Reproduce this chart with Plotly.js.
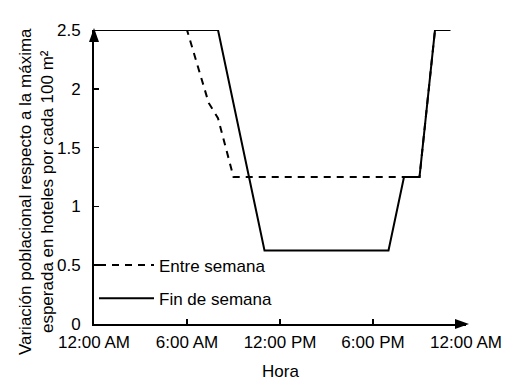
<!DOCTYPE html>
<html>
<head>
<meta charset="utf-8">
<script src="https://cdn.plot.ly/plotly-3.0.1.min.js"></script>
<style>html,body{margin:0;padding:0;background:#fff;}#chart{width:512px;height:382px;}</style>
</head>
<body>
<div id="chart"></div>
<script>
// Hours of the day (0 = 12:00 AM)
const weekdayHours = [0, 6, 7.4, 8, 9, 20, 21, 22, 23];
const weekdayValues = [2.5, 2.5, 1.88, 1.75, 1.25, 1.25, 1.25, 2.5, 2.5];
const weekendHours = [0, 8, 11, 19, 20, 21, 22, 23];
const weekendValues = [2.5, 2.5, 0.625, 0.625, 1.25, 1.25, 2.5, 2.5];
const seriesNames = ["Entre semana", "Fin de semana"];
const xTickVals = [0, 6, 12, 18, 24];
const xTickText = ["12:00 AM", "6:00 AM", "12:00 PM", "6:00 PM", "12:00 AM"];
const yTickVals = [0, 0.5, 1, 1.5, 2, 2.5];
const yTickText = ["0", "0.5", "1", "1.5", "2", "2.5"];

const FONT = "Liberation Sans, Arial, sans-serif";

const traces = [
  {
    x: weekdayHours, y: weekdayValues, name: seriesNames[0],
    type: "scatter", mode: "lines", cliponaxis: false,
    legendgroup: "a",
    line: {color: "#000", width: 2, dash: "7px,6px"}
  },
  {
    x: weekendHours, y: weekendValues, name: seriesNames[1],
    type: "scatter", mode: "lines", cliponaxis: false,
    legendgroup: "b",
    line: {color: "#000", width: 2}
  }
];

const layout = {
  width: 512, height: 382,
  margin: {l: 94, r: 46, t: 30, b: 58, pad: 0},
  paper_bgcolor: "#fff", plot_bgcolor: "#fff",
  font: {family: FONT, size: 17, color: "#000"},
  showlegend: true,
  legend: {
    x: 0.0, y: 0.26, xanchor: "left", yanchor: "top",
    bgcolor: "rgba(0,0,0,0)", borderwidth: 0,
    font: {family: FONT, size: 17, color: "#000"},
    traceorder: "grouped", tracegroupgap: 8, itemwidth: 55
  },
  xaxis: {
    range: [0, 24], tickvals: xTickVals, ticktext: xTickText,
    ticks: "inside", ticklen: 5, tickwidth: 1.5, tickcolor: "#000",
    showline: true, linecolor: "#000", linewidth: 2,
    showgrid: false, zeroline: false, fixedrange: true,
    ticklabelstandoff: 2,
    tickfont: {family: FONT, size: 17, color: "#000"}
  },
  yaxis: {
    range: [0, 2.5], tickvals: yTickVals, ticktext: yTickText,
    ticks: "inside", ticklen: 5, tickwidth: 1.5, tickcolor: "#000",
    showline: true, linecolor: "#000", linewidth: 2,
    showgrid: false, zeroline: false, fixedrange: true,
    ticklabelstandoff: 8,
    tickfont: {family: FONT, size: 17, color: "#000"}
  },
  annotations: [
    {
      text: "Variación poblacional respecto a la máxima<br>esperada en hoteles por cada 100 m²",
      xref: "paper", yref: "paper", x: -0.153, y: 0.449,
      xanchor: "center", yanchor: "middle", textangle: -90, showarrow: false,
      font: {family: FONT, size: 17, color: "#000"}
    },
    {
      text: "Hora", xref: "paper", yref: "paper", x: 0.5, y: -0.163,
      xanchor: "center", yanchor: "middle", showarrow: false,
      font: {family: FONT, size: 17, color: "#000"}
    }
  ],
  shapes: [
    {
      type: "path", xref: "paper", yref: "paper", xsizemode: "pixel", ysizemode: "pixel",
      xanchor: 1, yanchor: 0, path: "M -11,-5 L 3,0 L -11,5 Z",
      fillcolor: "#000", line: {width: 0}
    },
    {
      type: "path", xref: "paper", yref: "paper", xsizemode: "pixel", ysizemode: "pixel",
      xanchor: 0, yanchor: 1, path: "M -5,-12 L 0,2 L 5,-12 Z",
      fillcolor: "#000", line: {width: 0}
    }
  ]
};

Plotly.newPlot("chart", traces, layout, {displayModeBar: false, staticPlot: true});
</script>
</body>
</html>
